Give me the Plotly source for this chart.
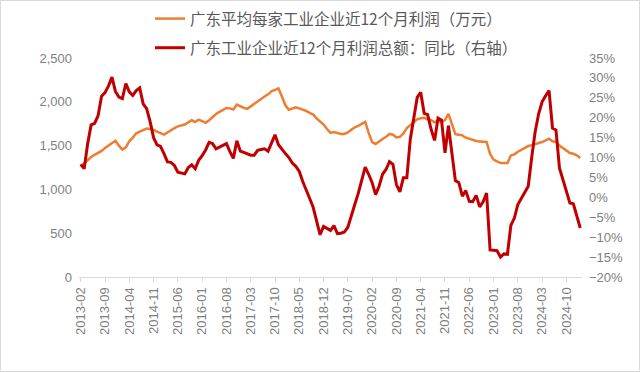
import pandas as pd
import plotly.graph_objects as go

# Months 2013-02 .. 2025-02
months = pd.date_range("2013-02-01", periods=145, freq="MS").strftime("%Y-%m").tolist()

avg_profit = [
    1262, 1300, 1340, 1370, 1395, 1415, 1440, 1473, 1500, 1530,
    1556, 1500, 1455, 1480, 1550, 1590, 1640, 1660, 1675, 1694,
    1690, 1680, 1660, 1640, 1625, 1650, 1680, 1700, 1720, 1730,
    1740, 1765, 1789, 1770, 1797, 1780, 1760, 1790, 1830, 1860,
    1885, 1905, 1930, 1925, 1912, 1969, 1945, 1930, 1920, 1950,
    1975, 2010, 2035, 2060, 2085, 2120, 2135, 2153, 2060, 1960,
    1910, 1925, 1938, 1925, 1912, 1895, 1874, 1855, 1810, 1778,
    1740, 1690, 1645, 1656, 1640, 1633, 1633, 1650, 1680, 1709,
    1725, 1745, 1771, 1645, 1540, 1519, 1550, 1575, 1600, 1633,
    1625, 1594, 1600, 1640, 1700, 1730, 1765, 1800, 1812, 1817,
    1800, 1789, 1765, 1786, 1766, 1790, 1863, 1740, 1630, 1625,
    1617, 1590, 1575, 1560, 1552, 1548, 1545, 1541, 1404, 1340,
    1320, 1300, 1300, 1300, 1388, 1400, 1430, 1450, 1470, 1495,
    1505, 1515, 1525, 1541, 1560, 1579, 1550, 1541, 1500, 1470,
    1442, 1415, 1407, 1390, 1358,
]

profit_yoy = [
    8.3, 7.2, 13.5, 18.2, 18.6, 20.5, 25.4, 26.3, 28.0, 30.2,
    26.6, 25.2, 24.8, 28.6, 26.5, 25.6, 26.8, 27.5, 23.5, 22.3,
    19.0, 15.0, 13.2, 12.8, 11.0, 8.9, 8.8, 8.0, 6.3, 6.1,
    5.9, 7.5, 8.2, 7.2, 9.3, 10.5, 11.9, 13.8, 13.5, 12.2,
    12.7, 13.0, 13.5, 11.5, 9.8, 14.2, 11.6, 11.3, 11.0, 10.6,
    10.6, 11.8, 12.0, 12.2, 11.6, 13.6, 15.7, 13.2, 12.0, 11.0,
    10.0, 8.6, 7.8, 6.5, 4.0, 1.6, -0.3, -2.5, -5.8, -9.4,
    -7.3, -7.8, -8.3, -7.1, -9.1, -9.0, -8.7, -7.5, -4.3, -1.8,
    1.0, 4.5, 7.6, 5.8, 3.7, 0.7, 2.8, 5.8, 7.0, 9.0,
    8.3, 3.2, 1.4, 4.9, 4.9, 14.6, 20.5, 25.1, 26.4, 21.1,
    20.8, 17.1, 14.3, 19.9, 19.4, 11.2, 18.0, 11.6, 4.2, 3.7,
    0.3, 1.7, -1.0, -1.1, 0.5, -2.4, -1.1, 1.1, -13.2, -13.3,
    -13.4, -15.0, -14.2, -14.3, -7.0, -5.2, -1.8, -0.3, 1.2, 2.8,
    10.0, 16.5, 21.0, 24.0, 25.5, 26.8, 17.4, 16.9, 7.4, 4.5,
    1.5, -1.4, -1.6, -4.6, -7.7,
]

tick_labels = months[::7]

name_avg = "广东平均每家工业企业近12个月利润（万元）"
name_yoy = "广东工业企业近12个月利润总额：同比（右轴）"

fig = go.Figure()
fig.add_trace(go.Scatter(
    x=months, y=avg_profit, name=name_avg, mode="lines",
    line=dict(color="#ED7D31", width=2.5), legendgroup="a",
))
fig.add_trace(go.Scatter(
    x=months, y=profit_yoy, name=name_yoy, mode="lines", yaxis="y2",
    line=dict(color="#C00000", width=3), legendgroup="b",
))

tick_font = dict(family="Liberation Sans, Arial, sans-serif", size=13, color="#7f7f7f")

W, H = 640, 372
L, R, T, B = 79, 58, 58, 95
pw = W - L - R
ph = H - T - B

def px(x):
    return (x - L) / pw

def py(y):
    return (H - B - y) / ph

fig.update_layout(
    width=W, height=H,
    margin=dict(l=L, r=R, t=T, b=B, autoexpand=False),
    paper_bgcolor="white", plot_bgcolor="white",
    showlegend=True,
    legend=dict(
        xref="container", yref="container",
        x=150 / W, y=1 - 2 / H, xanchor="left", yanchor="top",
        font=dict(family="Noto Sans CJK SC, sans-serif", size=15.5, color="#595959"),
        bgcolor="rgba(0,0,0,0)", tracegroupgap=6,
    ),
    xaxis=dict(
        type="category", categoryorder="array", categoryarray=months,
        range=[-0.5, len(months) - 0.5],
        tickmode="array", tickvals=tick_labels, ticktext=tick_labels,
        tickangle=-90, tickfont=tick_font,
        showline=True, linecolor="#d9d9d9", linewidth=1,
        ticks="outside", ticklen=4, tickcolor="#d9d9d9",
        showgrid=False, zeroline=False, automargin=False,
    ),
    yaxis=dict(
        range=[0, 2500], dtick=500, tickformat=",", tickfont=tick_font,
        showgrid=False, zeroline=False, showline=False, ticks="",
        automargin=False, ticklabelstandoff=6,
    ),
    yaxis2=dict(
        range=[-20, 35], dtick=5, ticksuffix="%", tickfont=tick_font,
        overlaying="y", side="right",
        showgrid=False, zeroline=False, showline=False, ticks="",
        automargin=False, ticklabelstandoff=6,
    ),
    shapes=[dict(
        type="rect", xref="paper", yref="paper",
        x0=px(0.5), x1=px(639.5), y0=py(371.5), y1=py(0.5),
        line=dict(color="#d9d9d9", width=1), fillcolor="rgba(0,0,0,0)",
        layer="below",
    )],
)

fig.write_html(
    "out.html",
    config={"displayModeBar": False},
    post_script="document.body.style.margin='0';document.body.style.padding='0';",
)
